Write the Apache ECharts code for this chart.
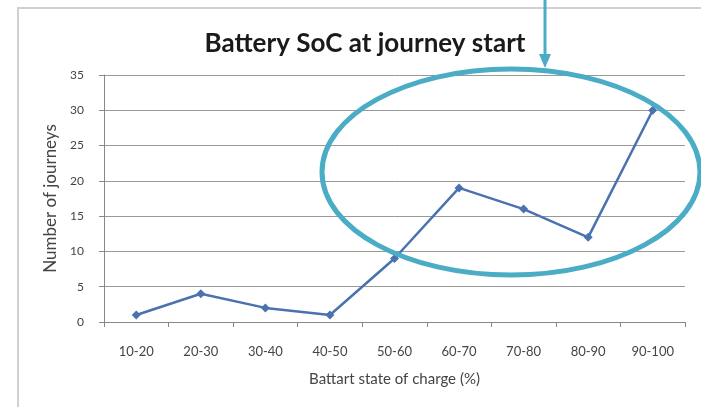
<!DOCTYPE html>
<html>
<head>
<meta charset="utf-8">
<script src="https://cdn.jsdelivr.net/npm/echarts@6/dist/echarts.min.js"></script>
<style>
  html, body { margin: 0; padding: 0; background: #fff; }
  #chart { width: 701px; height: 407px; }
</style>
</head>
<body>
<div id="chart"></div>
<script>
// 数据
const categories = ['10-20', '20-30', '30-40', '40-50', '50-60', '60-70', '70-80', '80-90', '90-100']
const journeys = [1, 4, 2, 1, 9, 19, 16, 12, 30]

const chart = echarts.init(document.getElementById('chart'))
const teal = '#4BACC6'

chart.setOption({
  animation: false,
  title: {
    text: 'Battery SoC at journey start',
    left: 360,
    top: 26,
    textAlign: 'center',
    textStyle: { fontFamily: 'Lato', fontSize: 26, fontWeight: 'bold', color: '#1a1a1a' }
  },
  grid: { left: 104, right: 16, top: 75, bottom: 85 },
  xAxis: {
    type: 'category',
    data: categories,
    boundaryGap: true,
    name: 'Battart state of charge (%)',
    nameLocation: 'middle',
    nameGap: 50,
    nameTextStyle: { fontFamily: 'Lato', fontSize: 15, color: '#444' },
    axisLine: { lineStyle: { color: '#888' } },
    axisTick: { show: true, length: 5, lineStyle: { color: '#888' } },
    axisLabel: { fontFamily: 'Lato', fontSize: 13, color: '#444', margin: 23 }
  },
  yAxis: {
    type: 'value',
    min: 0,
    max: 35,
    interval: 5,
    name: 'Number of journeys',
    nameLocation: 'middle',
    nameGap: 45,
    nameTextStyle: { fontFamily: 'Lato', fontSize: 17, color: '#444' },
    axisLine: { show: true, lineStyle: { color: '#888' } },
    axisTick: { show: true, length: 5, lineStyle: { color: '#888' } },
    axisLabel: { fontFamily: 'Lato', fontSize: 12, color: '#444', margin: 20 },
    splitLine: { lineStyle: { color: '#999', width: 1 } }
  },
  series: [{
    type: 'line',
    data: journeys,
    symbol: 'diamond',
    symbolSize: 9,
    lineStyle: { color: '#4A72AE', width: 2.5 },
    itemStyle: { color: '#4A72AE' }
  }],
  graphic: [
    // chart frame
    {
      type: 'rect',
      shape: { x: 18, y: 8, width: 700, height: 420 },
      style: { fill: null, stroke: '#d0d0d0', lineWidth: 2 },
      z: -1
    },
    // highlight ellipse
    {
      type: 'ellipse',
      shape: { cx: 511, cy: 172, rx: 189, ry: 103 },
      style: { fill: null, stroke: teal, lineWidth: 5 },
      z: 100
    },
    // arrow
    {
      type: 'line',
      shape: { x1: 545, y1: 0, x2: 545, y2: 56 },
      style: { stroke: teal, lineWidth: 3 },
      z: 100
    },
    {
      type: 'polygon',
      shape: { points: [[539, 54], [551, 54], [545, 68]] },
      style: { fill: teal },
      z: 100
    }
  ]
})
</script>
</body>
</html>
